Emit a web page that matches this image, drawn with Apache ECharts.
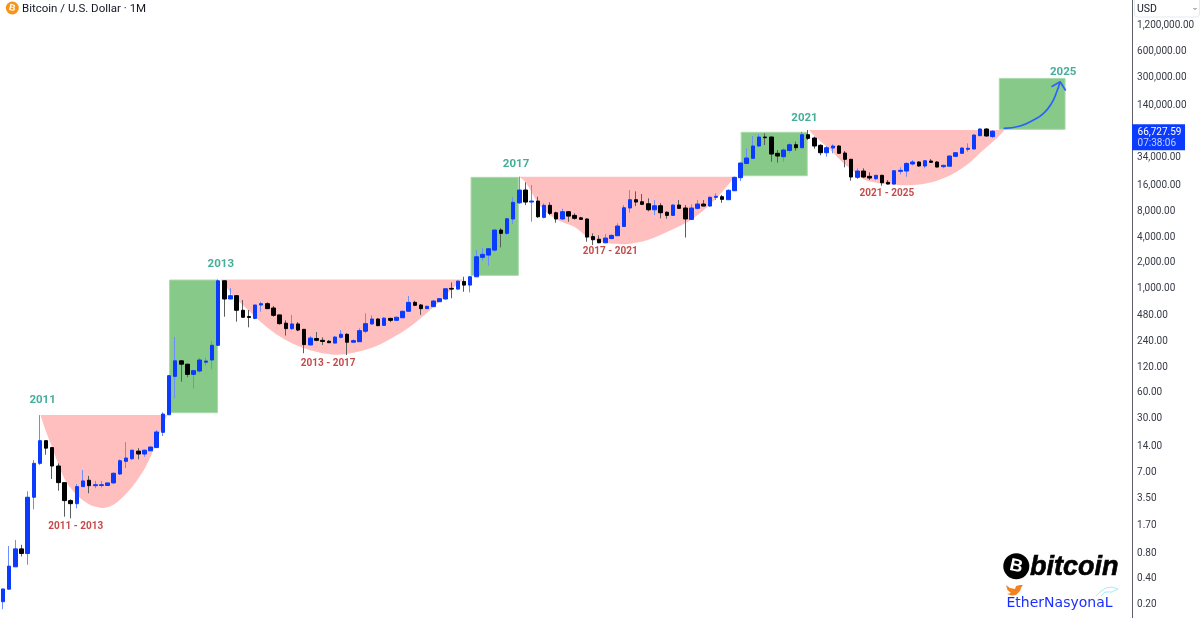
<!DOCTYPE html>
<html>
<head>
<meta charset="utf-8">
<title>Bitcoin / U.S. Dollar 1M</title>
<script src="https://cdn.jsdelivr.net/npm/echarts@6/dist/echarts.min.js"></script>
<style>
html, body { margin: 0; padding: 0; background: #fff; }
#chart { width: 1200px; height: 618px; }
</style>
</head>
<body>
<div id="chart"></div>
<script>
// monthly candles, first one is Dec 2010
const opens = [
    .207, .29, .53, .86, .76, 3.46, 8.63, 15.9, 13.2, 8.03,
    5.13, 3.16, 2.91, 4.61, 5.47, 4.73, 4.75, 4.75, 5.09, 6.47,
    9.11, 9.77, 12, 11.1, 12.1, 13.2, 19.9, 32, 90, 137,
    125, 95, 104, 132, 140, 208, 1185, 725, 793, 535,
    452, 430, 617, 639, 569, 472, 378, 326, 370, 320,
    210, 250, 238, 232, 221, 258, 280, 226, 229, 304,
    370, 423, 356, 430, 408, 437, 521, 662, 617, 559,
    590, 674, 725, 965, 947, 1165, 1055, 1320, 2228, 2370,
    2711, 4653, 4257, 6270, 9700, 13680, 9900, 10170, 6554, 9058,
    7420, 6270, 7630, 6910, 6470, 6270, 3900, 3630, 3300, 3700,
    3990, 5120, 8430, 10540, 9980, 9457, 8042, 8960, 7520, 6910,
    9130, 8430, 6200, 8350, 9380, 8890, 11247, 11424, 10540, 13430,
    19070, 28020, 32170, 44830, 57150, 57150, 36830, 33600, 39780, 46430,
    42840, 60800, 55630, 45690, 37410, 42470, 44830, 37120, 31330, 19267,
    22850, 19800, 18560, 20340, 16843, 16080, 22660, 22850, 27620, 29130,
    26150, 29910, 29130, 25700, 26000, 33950, 36830, 41030, 41370, 59190,
    70940, 57800,
];
const closes = [
    .292, .54, .86, .76, 3.46, 8.63, 15.9, 13, 8.03, 5.13,
    3.16, 2.91, 4.61, 5.37, 4.73, 4.85, 4.85, 5.09, 6.6, 9.26,
    9.96, 12.3, 11.1, 12.3, 13.4, 20.1, 32.6, 91.7, 137, 125,
    95, 105, 140, 136, 208, 1185, 725, 793, 535, 443,
    440, 617, 639, 559, 467, 373, 326, 370, 314, 212,
    253, 238, 231, 223, 260, 280, 226, 236, 309, 373,
    423, 353, 433, 408, 443, 521, 662, 612, 559, 596,
    687, 731, 955, 947, 1175, 1055, 1320, 2264, 2416, 2811,
    4653, 4257, 6312, 9824, 13680, 9900, 10170, 6650, 9058, 7300,
    6270, 7630, 6780, 6380, 6200, 3850, 3582, 3300, 3749, 4034,
    5184, 8487, 10540, 9900, 9307, 8042, 8960, 7420, 6910, 9130,
    8350, 6270, 8430, 9380, 8890, 11247, 11555, 10640, 13580, 19267,
    28340, 32430, 44830, 57150, 56100, 36120, 34230, 40240, 46430, 42840,
    60800, 55150, 44830, 37410, 42840, 44830, 36830, 31330, 19440, 22850,
    19440, 18910, 20340, 16660, 16080, 23030, 23260, 28020, 29130, 26150,
    30150, 28890, 25440, 26630, 34230, 37410, 42470, 42150, 60290, 70940,
    58720, 66727.59,
];
const highs = [
    .292, .93, 1.09, .96, 4.07, 9.44, 31.7, 15.9, 13.2, 8.63,
    5.13, 3.28, 4.95, 7.2, 6.15, 5.37, 5.37, 5.1, 6.75, 9.62,
    15.3, 12.5, 13, 12.5, 13.5, 21.2, 34.2, 93.5, 260, 140,
    126, 107, 149, 149, 234, 1231, 1190, 974, 805, 706,
    539, 620, 674, 662, 601, 475, 408, 472, 390, 322,
    267, 298, 258, 240, 267, 314, 288, 245, 329, 493,
    467, 430, 443, 437, 450, 528, 786, 693, 634, 605,
    700, 745, 974, 1135, 1185, 1320, 1345, 2711, 2888, 2888,
    4740, 4912, 6470, 11247, 19595, 16843, 15660, 11424, 9560, 9824,
    7630, 8265, 7760, 7300, 6650, 6380, 4257, 4034, 4175, 4130,
    5574, 9130, 13680, 13210, 12290, 10945, 10454, 9600, 7700, 9307,
    10454, 9130, 9307, 10454, 10454, 11555, 12525, 11961, 13946, 19595,
    28890, 42150, 58720, 61970, 63120, 57800, 40240, 42150, 48990, 50330,
    65960, 69050, 57800, 46950, 44830, 46950, 46060, 39190, 31700, 24580,
    24580, 22060, 20680, 20680, 17920, 23460, 25240, 28890, 30720, 29800,
    30720, 31560, 29800, 27060, 34890, 38140, 43280, 48160, 61440, 72250,
    72250, 69050,
];
const lows = [
    .169, .29, .53, .70, .56, 2.5, 8.24, 10.9, 5.67, 4.13,
    2.05, 1.96, 2.57, 4.61, 3.85, 4.41, 4.5, 4.75, 4.99, 6.3,
    7.61, 9.44, 9.62, 10.3, 12.1, 13.2, 18, 32, 49.8, 78,
    88, 64.6, 99, 120, 109, 205, 450, 725, 393, 440,
    338, 420, 515, 555, 450, 363, 270, 314, 304, 168,
    208, 232, 210, 222, 220, 250, 160, 225, 228, 288,
    360, 350, 350, 388, 408, 435, 515, 600, 472, 555,
    585, 668, 715, 740, 940, 880, 866, 1320, 2031, 1776,
    2591, 2917, 4063, 5473, 9380, 9130, 5820, 6470, 6380, 6960,
    5665, 6095, 5820, 6150, 6095, 3395, 3104, 3277, 3280, 3640,
    3980, 5060, 7420, 8890, 9130, 7700, 6960, 6380, 6312, 6780,
    8265, 3800, 6095, 8170, 8840, 8720, 10454, 9700, 10454, 13300,
    17446, 27640, 31740, 43460, 46060, 29360, 28570, 29360, 36830, 39500,
    42150, 52700, 41680, 34890, 33600, 36830, 36120, 25240, 17580, 18410,
    19000, 17920, 17920, 15360, 15980, 16000, 20900, 19595, 26630, 25700,
    24580, 28570, 25240, 24580, 25900, 33600, 36450, 38460, 41030, 58700,
    57800, 55630,
];
const price_ticks = [0.2, 0.4, 0.8, 1.7, 3.5, 7, 14, 30, 60, 120, 240, 480, 1000, 2000, 4000, 8000, 16000, 34000, 140000, 300000, 600000, 1200000];
const last_price = 66727.59;
const countdown = '07:38:06';

// [month index, price] along the cup edges
const cup_2011 = [[6.09, 31.7], [6.95, 20.6], [7.93, 13.5], [8.98, 8.47], [10.09, 5.52], [11.99, 3.68], [13.89, 2.89], [15.24, 2.66], [16.59, 2.6], [18.21, 2.91], [19.83, 3.68], [21.46, 5.05], [23.08, 7.55], [24.45, 12.35], [25.26, 17.7], [25.68, 21.2], [26.7, 31.7]];
const cup_2013 = [[35.38, 1224], [37.49, 786], [40.42, 493], [43.13, 329], [45.78, 245], [48.54, 197], [51.25, 172], [53.09, 164], [55.04, 162], [57.75, 175], [60.45, 200], [63.16, 250], [65.87, 329], [68.57, 472], [71.28, 706], [73.44, 1008], [74.85, 1224]];
const cup_2017 = [[83.95, 19595], [85.09, 16530], [87.52, 8723], [90.24, 6095], [92.93, 5086], [95.11, 3883], [97.81, 3300], [99.7, 3215], [101.6, 3190], [104.9, 3552], [108.1, 4444], [111.4, 5820], [114.05, 7983], [116.8, 12525], [118.9, 18913], [119.4, 19595]];
const cup_2021 = [[131.2, 69050], [131.9, 60290], [134.6, 40240], [136.8, 28020], [138.37, 22850], [140, 18260], [141.9, 16750], [143.85, 16080], [147.1, 15530], [150.3, 16400], [153.6, 19595], [156.8, 26870], [159.5, 40240], [161.7, 55150], [162.9, 69050]];

// [from month, to month, top price, bottom price]
const green_boxes = [
    [27.1, 34.9, 1208, 33.8],
    [76.15, 83.84, 19267, 1371],
    [120.1, 130.85, 64860, 20120],
    [162.1, 172.8, 277460, 70310],
];

const arrow_curve = [[162.8, 72250], [165.5, 76900], [167.66, 90390], [169.3, 108000], [170.6, 141450], [171.45, 193360], [172, 253330]];
const arrow_head = [[170.6, 221250], [172, 253330], [172.9, 200000]];

const year_names = ['2011', '2013', '2017', '2021', '2025'];
const year_spots = [[6.43, 48.5], [35.43, 1895], [83.47, 28570], [130.4, 98830], [172.5, 338000]];
const range_names = ['2011 - 2013', '2013 - 2017', '2017 - 2021', '2021 - 2025'];
const range_spots = [[11.83, 1.6], [52.9, 130], [98.8, 2662], [143.8, 12870]];

const blue = '#0b3bff';
const pink = '#ffbfbf';
const green = '#87c988';
const label_font = 'Roboto, sans-serif';

const months = [];
for (let i = 0; i < 184; i++) {
    months.push(`${2010 + Math.floor((i + 11) / 12)}-${(i + 11) % 12 + 1}`);
}

// closed shape: curved bottom through the read points, straight rim on top
function cup_path(pts) {
    let d = `M${pts[0][0]},${pts[0][1]}`;
    for (let i = 0; i < pts.length - 1; i++) {
        const p0 = pts[Math.max(i - 1, 0)];
        const p1 = pts[i];
        const p2 = pts[i + 1];
        const p3 = pts[Math.min(i + 2, pts.length - 1)];
        d += ` C${p1[0] + (p2[0] - p0[0]) / 6},${p1[1] + (p2[1] - p0[1]) / 6}`
            + ` ${p2[0] - (p3[0] - p1[0]) / 6},${p2[1] - (p3[1] - p1[1]) / 6}`
            + ` ${p2[0]},${p2[1]}`;
    }
    return d + ' Z';
}

function cup_series(points) {
    return {
        type: 'custom',
        xAxisIndex: 1,
        z: 1,
        silent: true,
        data: points,
        renderItem: (params, api) => {
            if (params.dataIndex !== 0) {
                return null;
            }
            return {
                type: 'path',
                shape: { pathData: cup_path(points.map((p) => api.coord(p))) },
                style: { fill: pink },
            };
        },
    };
}

function text_series(names, spots, color, size) {
    return {
        type: 'scatter',
        xAxisIndex: 1,
        z: 5,
        silent: true,
        symbolSize: 1,
        itemStyle: { color: 'transparent' },
        label: {
            show: true,
            position: 'inside',
            offset: [0, 1],
            color: color,
            fontFamily: label_font,
            fontWeight: 'bold',
            fontSize: size,
            formatter: '{b}',
        },
        data: names.map((name, i) => ({ name: name, value: spots[i] })),
    };
}

const chart = echarts.init(document.getElementById('chart'), null, { renderer: 'canvas' });
chart.setOption({
    animation: false,
    backgroundColor: '#ffffff',
    grid: { left: -1.88, width: 1132.7, top: 0, bottom: 0 },
    xAxis: [
        { type: 'category', data: months, show: false },
        { type: 'value', min: -0.5, max: 183.5, show: false },
    ],
    yAxis: {
        type: 'log',
        logBase: 2,
        position: 'right',
        offset: 1.2,
        min: 0.1334,
        max: 2298000,
        splitLine: { show: false },
        axisTick: { show: false },
        axisLine: { show: true, onZero: false, lineStyle: { color: '#5d5f66', width: 1 } },
        axisLabel: {
            customValues: price_ticks,
            margin: 5,
            color: '#363a45',
            fontFamily: label_font,
            fontSize: 10,
            verticalAlign: 'top',
            lineHeight: 3,
            hideOverlap: false,
            formatter: (v) => v.toLocaleString('en-US', { minimumFractionDigits: 2, maximumFractionDigits: 2 }),
        },
    },
    series: [
        {
            type: 'custom',
            xAxisIndex: 1,
            z: 1,
            silent: true,
            encode: { x: [0, 1], y: [2, 3] },
            data: green_boxes,
            renderItem: (params, api) => {
                const a = api.coord([api.value(0), api.value(2)]);
                const b = api.coord([api.value(1), api.value(3)]);
                return {
                    type: 'rect',
                    shape: { x: a[0], y: a[1], width: b[0] - a[0], height: b[1] - a[1] },
                    style: { fill: green, stroke: '#a9d9aa', lineWidth: 1 },
                };
            },
        },
        cup_series(cup_2011),
        cup_series(cup_2013),
        cup_series(cup_2017),
        cup_series(cup_2021),
        {
            // wicks, paler than the bodies
            type: 'candlestick',
            z: 3,
            barWidth: 1,
            itemStyle: {
                color: '#6f8dff',
                color0: '#5c5c5c',
                borderColor: '#6f8dff',
                borderColor0: '#5c5c5c',
                borderWidth: 1,
            },
            data: opens.map((o, i) => [o, closes[i], lows[i], highs[i]]),
        },
        {
            // bodies only
            type: 'candlestick',
            z: 3,
            barWidth: 4,
            itemStyle: {
                color: blue,
                color0: '#000000',
                borderColor: blue,
                borderColor0: '#000000',
                borderWidth: 1,
            },
            data: opens.map((o, i) => [o, closes[i], Math.min(o, closes[i]), Math.max(o, closes[i])]),
        },
        {
            type: 'line',
            xAxisIndex: 1,
            z: 4,
            smooth: true,
            symbol: 'none',
            silent: true,
            lineStyle: { color: '#2962ff', width: 1.7 },
            data: arrow_curve,
        },
        {
            type: 'line',
            xAxisIndex: 1,
            z: 4,
            symbol: 'none',
            silent: true,
            lineStyle: { color: '#2962ff', width: 1.7 },
            data: arrow_head,
        },
        text_series(year_names, year_spots, '#149a80', 11.5),
        text_series(range_names, range_spots, '#b71c1c', 10),
        {
            // last price tag sitting on the axis
            type: 'custom',
            xAxisIndex: 1,
            z: 6,
            silent: true,
            clip: false,
            data: [[161, last_price]],
            renderItem: (params, api) => {
                const y = api.coord([api.value(0), api.value(1)])[1];
                const x = params.coordSys.x + params.coordSys.width + 1.2;
                return {
                    type: 'group',
                    children: [
                        { type: 'rect', shape: { x: x, y: y - 7, width: 53, height: 26 }, style: { fill: blue } },
                        { type: 'text', style: { x: x + 5.5, y: y + 1, text: last_price.toLocaleString('en-US', { minimumFractionDigits: 2 }), fill: '#ffffff', font: `10px ${label_font}`, align: 'left', verticalAlign: 'middle' } },
                        { type: 'text', style: { x: x + 5.5, y: y + 12, text: countdown, fill: '#c4d2ff', font: `10px ${label_font}`, align: 'left', verticalAlign: 'middle' } },
                    ],
                };
            },
        },
    ],
    graphic: [
        // header
        { type: 'circle', shape: { cx: 12.3, cy: 8, r: 6.5 }, style: { fill: '#f7931a' } },
        { type: 'text', x: 12.3, y: 8, rotation: -0.22, style: { text: 'B', fill: '#ffffff', font: 'bold 9px "Liberation Sans"', align: 'center', verticalAlign: 'middle' } },
        { type: 'text', style: { x: 22, y: 9.5, text: 'Bitcoin / U.S. Dollar \u00b7 1M', fill: '#131722', font: `11.5px ${label_font}`, align: 'left', verticalAlign: 'middle' } },
        // currency box
        { type: 'rect', shape: { x: 1134.5, y: -3, width: 65, height: 20, r: 3 }, style: { fill: '#ffffff', stroke: '#e6e8ee' } },
        { type: 'text', style: { x: 1137, y: 9.5, text: 'USD', fill: '#131722', font: `10.5px ${label_font}`, align: 'left', verticalAlign: 'middle' } },
        { type: 'polyline', shape: { points: [[1193.5, 8], [1195, 9.5], [1196.5, 8]] }, style: { stroke: '#6a6d78', fill: 'none', lineWidth: 1 } },
        // watermark
        { type: 'circle', shape: { cx: 1016.3, cy: 566.3, r: 13 }, style: { fill: '#000000' } },
        { type: 'text', x: 1016.3, y: 566.3, rotation: -0.22, style: { text: 'B', fill: '#ffffff', font: 'bold 18px "Liberation Sans"', align: 'center', verticalAlign: 'middle' } },
        { type: 'text', style: { x: 1030, y: 567.5, text: 'bitcoin', fill: '#000000', stroke: '#000000', lineWidth: 0.6, font: 'italic bold 27px "Liberation Sans"', align: 'left', verticalAlign: 'middle' } },
        { type: 'polygon', shape: { points: [[1006, 585], [1010, 588], [1015, 589], [1016, 586], [1020, 585], [1023, 585], [1021.5, 587], [1020, 591], [1016, 595], [1012, 595.5], [1007, 594], [1011, 593], [1007.5, 590]] }, style: { fill: '#f58220' } },
        { type: 'text', style: { x: 1006.5, y: 603, text: 'EtherNasyonaL', fill: '#1a2eff', font: '14px "DejaVu Sans"', align: 'left', verticalAlign: 'middle' } },
        { type: 'polyline', shape: { points: [[1096, 596], [1100, 592], [1106, 588], [1112, 587], [1118, 589], [1112, 592], [1105, 592], [1101, 596]] }, style: { stroke: '#a8ecf4', fill: 'none', lineWidth: 1 } },
    ],
});
</script>
</body>
</html>
